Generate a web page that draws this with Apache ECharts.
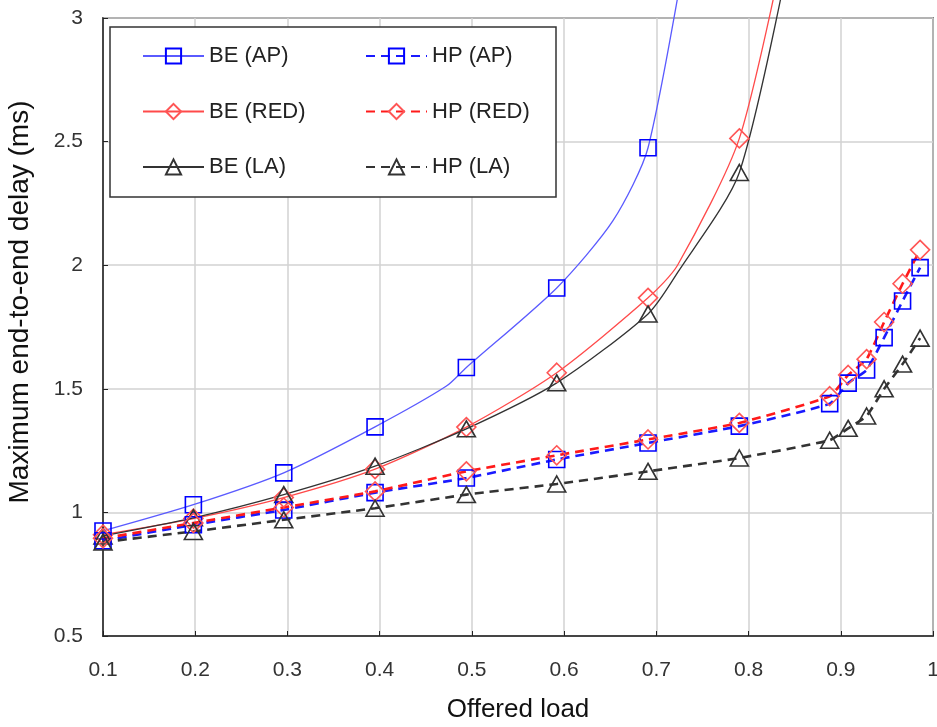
<!DOCTYPE html>
<html>
<head>
<meta charset="utf-8">
<script src="https://cdn.jsdelivr.net/npm/echarts@6/dist/echarts.min.js"></script>
<style>
  html, body { margin: 0; padding: 0; background: #fff; }
  #chart { width: 937px; height: 727px; }
</style>
</head>
<body>
<div id="chart"></div>
<script>
// offered load where the markers sit
const loadBE = [0.1, 0.198, 0.296, 0.395, 0.494, 0.592, 0.691, 0.79];
const loadHP = [0.1, 0.198, 0.296, 0.395, 0.494, 0.592, 0.691, 0.79, 0.888, 0.908, 0.928, 0.947, 0.967, 0.986];

// best effort (solid)
const beAP = [0.925, 1.031, 1.16, 1.346, 1.586, 1.908, 2.475];
const beRED = [0.91, 0.975, 1.06, 1.175, 1.345, 1.565, 1.868, 2.513];
const beLA = [0.905, 0.978, 1.072, 1.187, 1.338, 1.524, 1.803, 2.375];

// unmarked points along the solid curves (read from the bends)
const beAPCurve = [[0.472, 1.51], [0.653, 2.18], [0.74, 3.45]];
const beREDCurve = [[0.723, 2.0], [0.845, 3.4]];
const beLACurve = [[0.723, 1.97], [0.852, 3.4]];

// high priority (dashed)
const hpAP = [0.885, 0.95, 1.01, 1.08, 1.139, 1.214, 1.281, 1.349, 1.44, 1.523, 1.576, 1.707, 1.855, 1.99];
const hpRED = [0.895, 0.957, 1.02, 1.085, 1.166, 1.231, 1.295, 1.362, 1.47, 1.556, 1.62, 1.77, 1.925, 2.062];
const hpLA = [0.88, 0.923, 0.97, 1.017, 1.072, 1.115, 1.166, 1.22, 1.292, 1.34, 1.39, 1.5, 1.6, 1.705];

const xTickLabels = ["0.1", "0.2", "0.3", "0.4", "0.5", "0.6", "0.7", "0.8", "0.9", "1"];
const yTickLabels = ["0.5", "1", "1.5", "2", "2.5", "3"];

function buildData(xs, ys, curve) {
  const pts = ys.map((y, i) => ({ value: [xs[i], y] }));
  (curve || []).forEach(([x, y]) => pts.push({ value: [x, y], symbol: "none" }));
  return pts.sort((a, b) => a.value[0] - b.value[0]);
}

const chart = echarts.init(document.getElementById("chart"));

const font = "Liberation Sans";
const hollow = "rgba(255,255,255,0)";

function lineSeries(name, data, opts) {
  return {
    name: name,
    type: "line",
    data: data,
    smooth: opts.smooth,
    symbol: opts.symbol,
    symbolSize: opts.symbolSize,
    showAllSymbol: true,
    clip: false,
    lineStyle: { color: opts.line, width: opts.width, type: opts.dash || "solid" },
    itemStyle: { color: hollow, borderColor: opts.marker, borderWidth: 1.6 },
    emphasis: { disabled: true },
    animation: false,
  };
}

const legendText = { fontFamily: font, fontSize: 22, color: "#222" };

const options = {
  backgroundColor: "#fff",
  grid: {
    left: 103,
    right: 4,
    top: 18,
    bottom: 91,
    outerBoundsMode: "none",
    containLabel: false,
    show: true,
    borderColor: "#222",
    borderWidth: 1.5,
    backgroundColor: "transparent",
  },
  graphic: [
    {
      type: "rect",
      z: 3,
      shape: { x: 110, y: 27, width: 446, height: 170 },
      style: { fill: "#fff", stroke: "#333", lineWidth: 1.5 },
    },
  ],
  legend: [
    {
      left: 137,
      top: 40,
      orient: "vertical",
      itemGap: 33.5,
      itemWidth: 61,
      itemHeight: 19,
      z: 5,
      textStyle: legendText,
      data: ["BE (AP)", "BE (RED)", "BE (LA)"],
    },
    {
      left: 360,
      top: 40,
      orient: "vertical",
      itemGap: 33.5,
      itemWidth: 61,
      itemHeight: 19,
      z: 5,
      textStyle: legendText,
      data: ["HP (AP)", "HP (RED)", "HP (LA)"],
    },
  ],
  xAxis: {
    type: "value",
    min: 0.1,
    max: 1,
    interval: 0.1,
    name: "Offered load",
    nameLocation: "middle",
    nameGap: 61,
    nameTextStyle: { fontFamily: font, fontSize: 26, color: "#111" },
    axisLine: { lineStyle: { color: "#222", width: 1.5 } },
    axisTick: { inside: true, length: 5, lineStyle: { color: "#222" } },
    axisLabel: {
      fontFamily: font,
      fontSize: 21,
      color: "#333",
      margin: 24,
      formatter: (v) => xTickLabels[Math.round(v * 10) - 1],
    },
    splitLine: { show: true, lineStyle: { color: "#d2d2d2", width: 1.5 } },
  },
  yAxis: {
    type: "value",
    min: 0.5,
    max: 3,
    interval: 0.5,
    name: "Maximum end-to-end delay (ms)",
    nameLocation: "middle",
    nameGap: 69,
    nameTextStyle: { fontFamily: font, fontSize: 28, color: "#111", padding: [0, 0, 0, 50] },
    axisLine: { show: true, lineStyle: { color: "#222", width: 1.5 } },
    axisTick: { show: true, inside: true, length: 5, lineStyle: { color: "#222" } },
    axisLabel: {
      fontFamily: font,
      fontSize: 21,
      color: "#333",
      margin: 20,
      formatter: (v) => yTickLabels[Math.round(v * 2) - 1],
    },
    splitLine: { show: true, lineStyle: { color: "#d2d2d2", width: 1.5 } },
  },
  series: [
    lineSeries("BE (AP)", buildData(loadBE, beAP, beAPCurve), {
      smooth: 0.25, symbol: "rect", symbolSize: 16, line: "#5a5aff", width: 1.3, marker: "#0000ff",
    }),
    lineSeries("BE (RED)", buildData(loadBE, beRED, beREDCurve), {
      smooth: 0.25, symbol: "diamond", symbolSize: 19, line: "#ff4a4a", width: 1.3, marker: "#ff5555",
    }),
    lineSeries("BE (LA)", buildData(loadBE, beLA, beLACurve), {
      smooth: 0.25, symbol: "triangle", symbolSize: [18, 16], line: "#333", width: 1.3, marker: "#333",
    }),
    lineSeries("HP (AP)", buildData(loadHP, hpAP), {
      smooth: 0.15, symbol: "rect", symbolSize: 16, line: "#1a1aff", width: 2.6, dash: [9, 6], marker: "#0000ff",
    }),
    lineSeries("HP (RED)", buildData(loadHP, hpRED), {
      smooth: 0.15, symbol: "diamond", symbolSize: 19, line: "#ff1a1a", width: 2.6, dash: [9, 6], marker: "#ff5555",
    }),
    lineSeries("HP (LA)", buildData(loadHP, hpLA), {
      smooth: 0.15, symbol: "triangle", symbolSize: [18, 16], line: "#333", width: 2.6, dash: [9, 6], marker: "#333",
    }),
  ],
};

chart.setOption(options);
</script>
</body>
</html>
